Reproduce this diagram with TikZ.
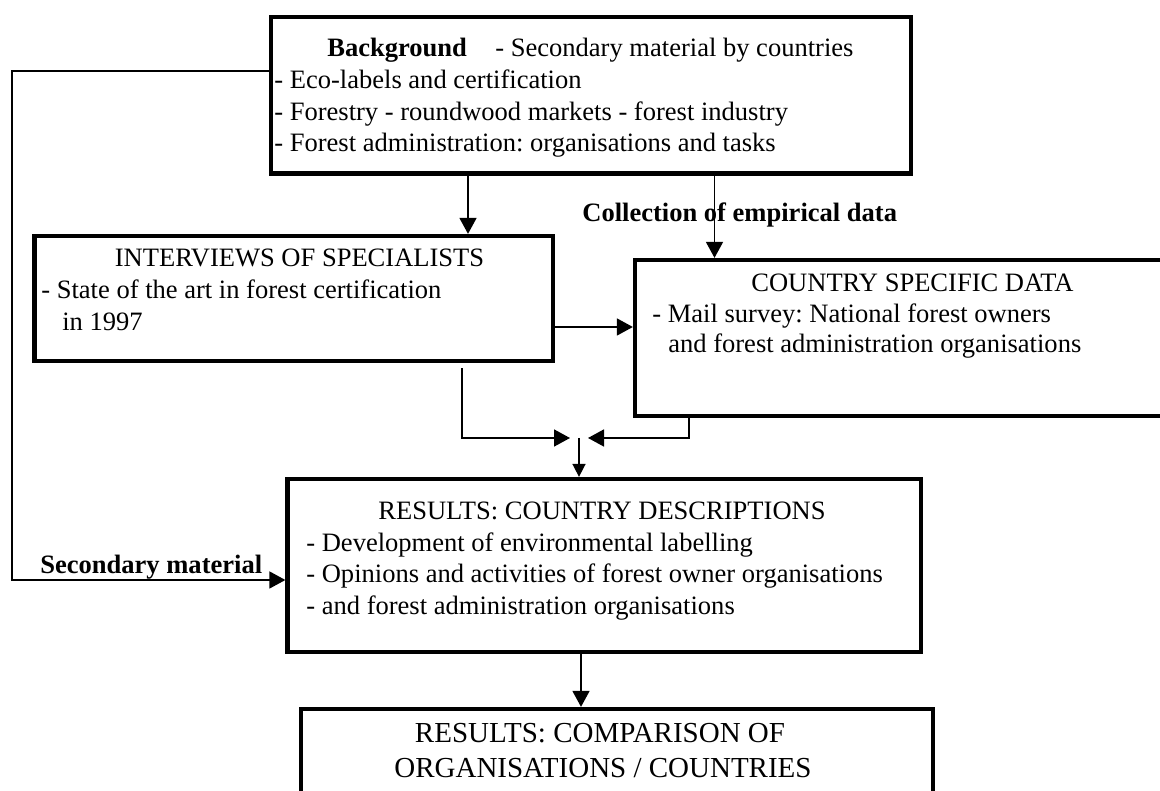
\documentclass[tikz,border=0pt]{standalone}
\usepackage{fontspec}
\setmainfont{Liberation Serif}
\frenchspacing
\usetikzlibrary{arrows.meta}

\begin{document}
\begin{tikzpicture}[
  x=0.2mm, y=-0.2mm,
  font=\fontsize{15.1}{18}\selectfont,
  box/.style={draw,line width=0.85mm,inner sep=0pt},
  txt/.style={anchor=base west,inner sep=0pt},
  big/.style={anchor=base,inner sep=0pt,font=\fontsize{16.5}{20}\selectfont},
  ln/.style={line width=0.32mm},
  ar/.style={ln,-{Triangle[length=3.2mm,width=3.4mm]}},
  arsmall/.style={ln,-{Triangle[length=2.6mm,width=2.6mm]}}
]
\useasboundingbox (0,0) rectangle (1160,791);
\clip (0,0) rectangle (1160,791);

% boxes
\node[box,minimum width=128mm,minimum height=31.3mm]   (bg)   at (591,95.25)    {};
\node[box,minimum width=103.7mm,minimum height=25mm]   (intv) at (293.75,298.5) {};
\node[box,minimum width=113mm,minimum height=31.2mm]   (ctry) at (917.5,338)    {};
\node[box,minimum width=126.7mm,minimum height=34.6mm] (res)  at (604.25,565.5) {};
\node[box,minimum width=126.4mm,minimum height=28.2mm] (cmp)  at (617,779.5)    {};

% background
\node[txt] (bgHead) at (327,57)    {\textbf{Background}};
\node[txt] (bgSec)  at (495,57)    {- Secondary material by countries};
\node[txt] (bgEco)  at (274,89)    {- Eco-labels and certification};
\node[txt] (bgFor)  at (274,120.5) {- Forestry - roundwood markets - forest industry};
\node[txt] (bgAdm)  at (274,152)   {- Forest administration: organisations and tasks};

% interviews
\node[txt] (intvHead) at (114.5,267) {INTERVIEWS OF SPECIALISTS};
\node[txt] (intvA)    at (41,299)    {- State of the art in forest certification};
\node[txt] (intvB)    at (62,331)    {in 1997};

% country data
\node[txt] (ctryHead) at (751,292) {COUNTRY SPECIFIC DATA};
\node[txt] (ctryA)    at (652,323) {- Mail survey: National forest owners};
\node[txt] (ctryB)    at (668,353) {and forest administration organisations};

% results
\node[txt] (resHead) at (378,520)   {RESULTS: COUNTRY DESCRIPTIONS};
\node[txt] (resA)    at (306,551.5) {- Development of environmental labelling};
\node[txt] (resB)    at (306,583)   {- Opinions and activities of forest owner organisations};
\node[txt] (resC)    at (306,615)   {- and forest administration organisations};

% comparison
\node[big] (cmpA) at (600,743) {RESULTS: COMPARISON OF};
\node[big] (cmpB) at (603,778) {ORGANISATIONS / COUNTRIES};

% labels on the connectors
\node[txt] (collect) at (582,222) {\textbf{Collection of empirical data}};
\node[txt] (secLbl)  at (40,574)  {\textbf{Secondary material}};

% connectors
\coordinate (secL) at (12,71);
\coordinate (secY) at (0,580);
\coordinate (a1) at (468,0);
\coordinate (a2) at (714.5,0);
\coordinate (a3) at (0,327);
\coordinate (a4) at (581,0);
\coordinate (jl) at (462,0);
\coordinate (jr) at (689,0);
\coordinate (jn) at (579,438);

\draw[ar] (bg.west |- secL) -- (secL) |- (res.west |- secY);
\draw[ar] (bg.south -| a1) -- (intv.north -| a1);
\draw[ar] (bg.south -| a2) -- (ctry.north -| a2);
\draw[ar] (intv.east |- a3) -- (ctry.west |- a3);
\draw[ar,shorten <=1mm,shorten >=1.8mm] (intv.south -| jl) |- (jn);
\draw[ar,shorten >=1.8mm] (ctry.south -| jr) |- (jn);
\draw[arsmall] (jn) -- (res.north -| jn);
\draw[ar] (res.south -| a4) -- (cmp.north -| a4);
\end{tikzpicture}
\end{document}
